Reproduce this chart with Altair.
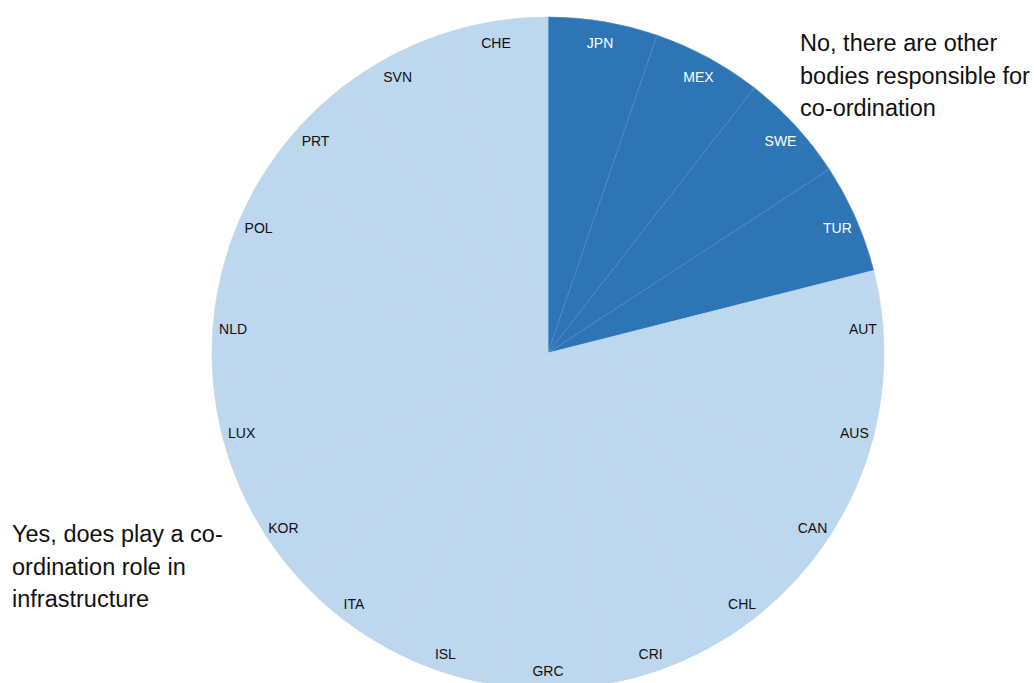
import altair as alt
import pandas as pd

# Countries in clockwise order starting at 12 o'clock, one equal slice each
countries = ["JPN", "MEX", "SWE", "TUR", "AUT", "AUS", "CAN", "CHL", "CRI", "GRC",
             "ISL", "ITA", "KOR", "LUX", "NLD", "POL", "PRT", "SVN", "CHE"]
answers = ["No"] * 4 + ["Yes"] * 15
counts = [1] * len(countries)

df = pd.DataFrame({
    "country": countries,
    "answer": answers,
    "count": counts,
    "order": list(range(len(countries))),
})

# Plot area is laid out so that its centre (the pie's centre) sits at (548, 353)
PAD_L, PAD_T = 62, 23
W, H = 972, 660
R = 336
DARK, LIGHT = "#2e75b6", "#bdd7ee"

color_scale = alt.Scale(domain=["No", "Yes"], range=[DARK, LIGHT])
stroke_scale = alt.Scale(domain=["No", "Yes"], range=["#4f8bc6", LIGHT])

base = alt.Chart(df).encode(
    theta=alt.Theta("count:Q", stack=True),
    order=alt.Order("order:Q", sort="ascending"),
)

pie = base.mark_arc(strokeWidth=0.7).encode(
    color=alt.Color("answer:N", scale=color_scale, legend=None),
    stroke=alt.Stroke("answer:N", scale=stroke_scale, legend=None),
    radius=alt.value(R),
)

labels = base.mark_text(font="Liberation Sans", fontSize=14, dy=3).encode(
    text="country:N",
    color=alt.condition(alt.datum.answer == "No", alt.value("#ffffff"), alt.value("#111111")),
    radius=alt.value(316),
)

no_note = pd.DataFrame({"t": [["No, there are other", "bodies responsible for", "co-ordination"]]})
yes_note = pd.DataFrame({"t": [["Yes, does play a co-", "ordination role in", "infrastructure"]]})

note_style = dict(font="Liberation Sans", fontSize=23.5, align="left", baseline="alphabetic",
                  lineHeight=32.5, color="#111111")

note_no = alt.Chart(no_note).mark_text(**note_style).encode(
    text="t:N", x=alt.value(800 - PAD_L), y=alt.value(51 - PAD_T)
)
note_yes = alt.Chart(yes_note).mark_text(**note_style).encode(
    text="t:N", x=alt.value(12 - PAD_L), y=alt.value(542 - PAD_T)
)

chart = alt.layer(pie, labels, note_no, note_yes).properties(
    width=W, height=H,
    padding={"left": PAD_L, "top": PAD_T, "right": 0, "bottom": 0},
    autosize=alt.AutoSizeParams(type="none"),
    background="#ffffff",
).configure_view(stroke=None)

chart.save("out.html", embed_options={"renderer": "svg", "actions": False})
